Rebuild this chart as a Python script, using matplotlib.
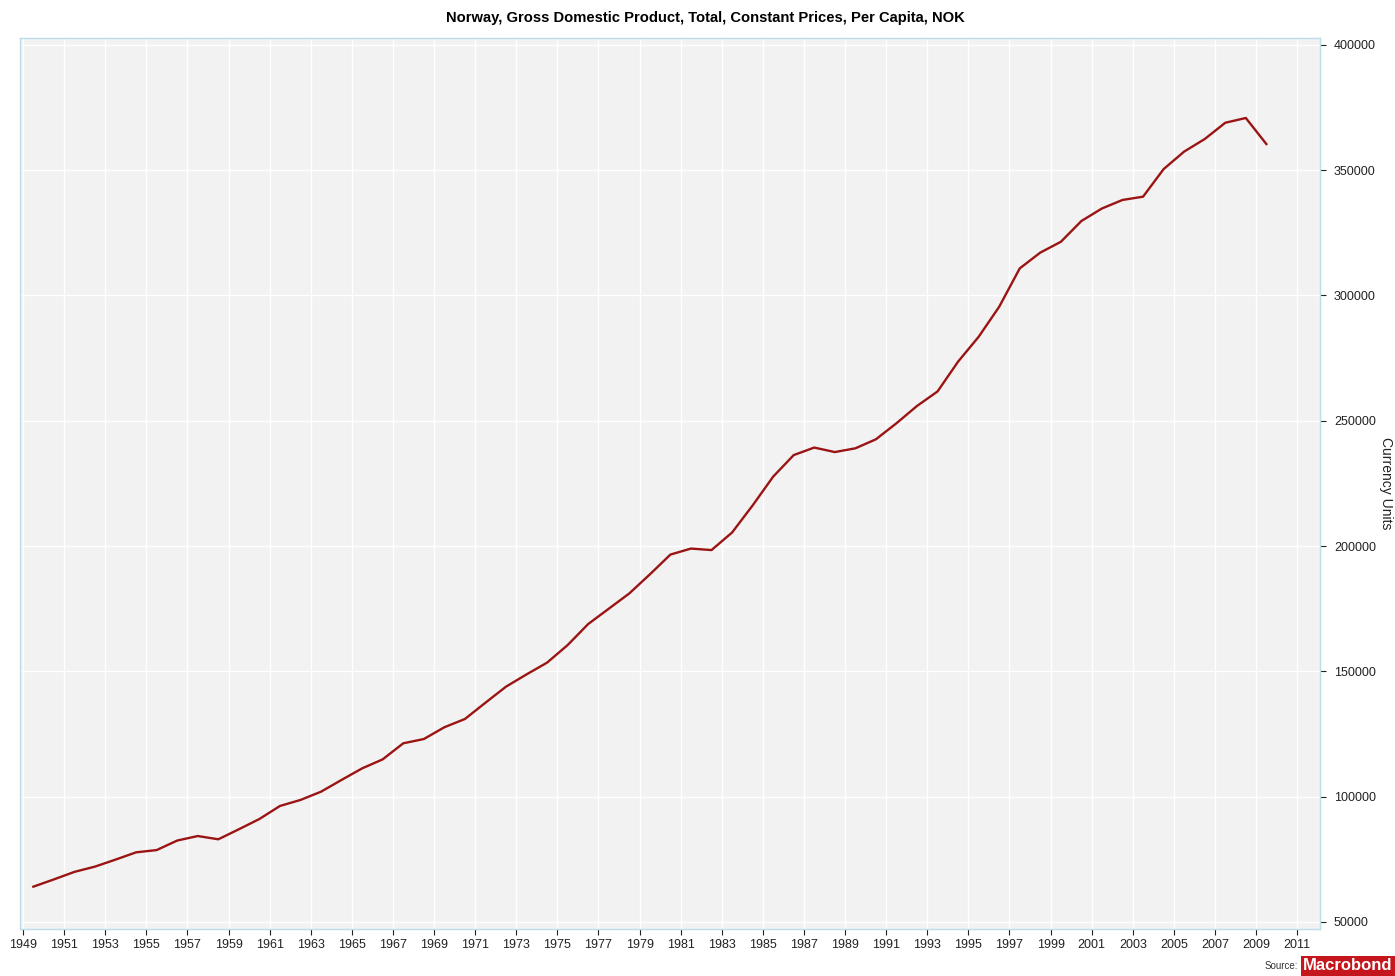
import matplotlib.pyplot as plt
import numpy as np

plt.rcParams['font.family'] = ['Liberation Sans', 'DejaVu Sans']

years = list(range(1949, 2010))
gdp = [64100, 67000, 70000, 72100, 74900, 77800, 78700, 82500, 84300, 83000,
       87000, 91100, 96300, 98700, 102000, 106700, 111300, 114900, 121300, 123000,
       127700, 131000, 137500, 143900, 148800, 153500, 160500, 168900, 175000, 181100,
       188700, 196600, 199000, 198400, 205400, 216200, 227700, 236300, 239300, 237500,
       239000, 242600, 249000, 255900, 261700, 273600, 283500, 295500, 310800, 317100,
       321400, 329700, 334700, 338100, 339400, 350400, 357400, 362400, 368900, 370800,
       360400]
xticks = list(range(1949, 2012, 2))
yticks = list(range(50000, 400001, 50000))

title = "Norway, Gross Domestic Product, Total, Constant Prices, Per Capita, NOK"

fig = plt.figure(figsize=(13.95, 9.76), dpi=100)
ax = fig.add_axes([20/1395, 1-929/976, 1300/1395, 891/976])
ax.set_facecolor('#f2f2f2')

# annual values drawn at mid-year
x = np.array(years) + 0.5
ax.plot(x, gdp, color='#9b1414', lw=1.7, solid_joinstyle='round')

ax.set_xlim(1948.85, 2012.11)
ax.set_ylim(47207, 402716)
ax.set_xticks(xticks)
ax.set_xticklabels([str(y) for y in xticks])
ax.set_yticks(yticks)
ax.set_yticklabels([str(v) for v in yticks])
ax.yaxis.tick_right()
ax.yaxis.set_label_position('right')
ax.tick_params(axis='both', labelsize=9, colors='#222222', length=4, width=0.8, direction='out')
ax.tick_params(axis='y', pad=6)
ax.tick_params(axis='x', pad=3)
ax.grid(True, color='white', lw=1)
ax.set_axisbelow(True)
for s in ax.spines.values():
    s.set_color('#bcdcec')
    s.set_linewidth(1)

ax.set_ylabel('Currency Units', rotation=270, fontsize=10, color='#222222', labelpad=12)

fig.text(705/1395, 1-18/976, title, ha='center', va='center', fontsize=10.6, fontweight='bold')

fig.text(1298/1395, 1-966/976, 'Source:', ha='right', va='center', fontsize=7, color='#333333')
fig.text(1348/1395, 1-966/976, 'Macrobond', ha='center', va='center', fontsize=12,
         fontweight='bold', color='white',
         bbox=dict(boxstyle='square,pad=0.15', fc='#c4161c', ec='none'))

fig.savefig('out.png', dpi=100)
